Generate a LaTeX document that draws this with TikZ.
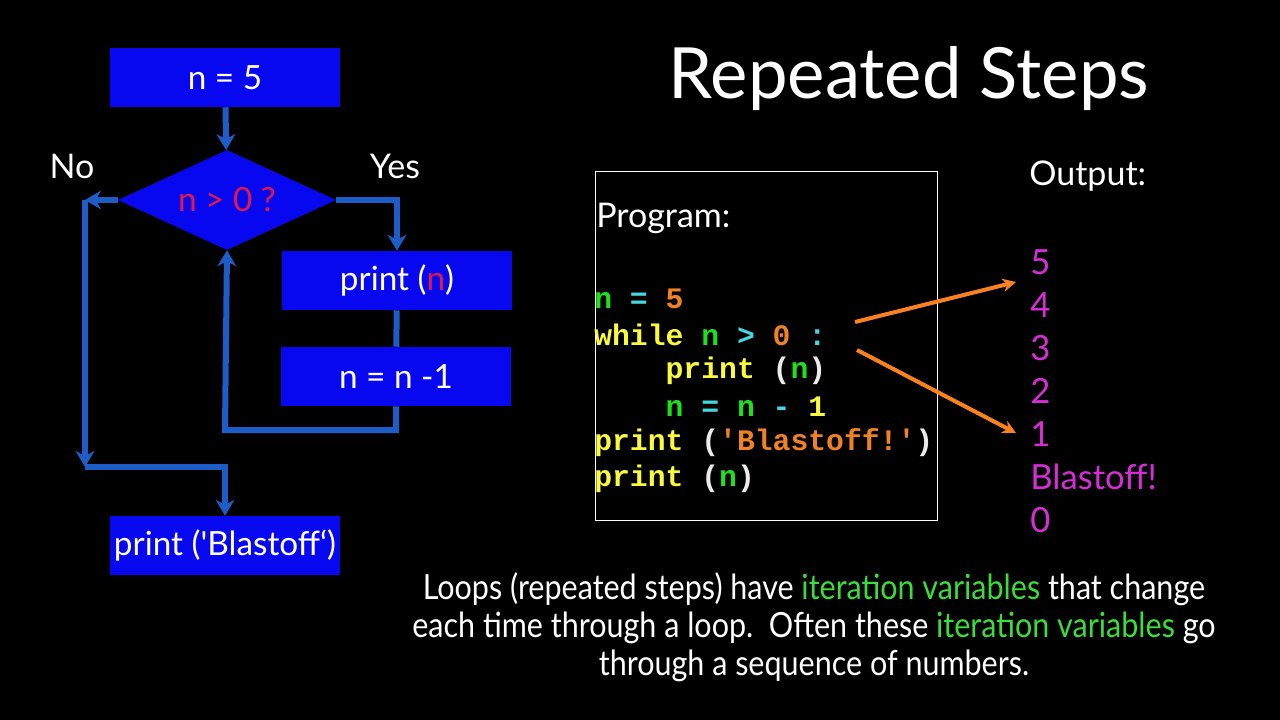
\documentclass[tikz,border=0pt]{standalone}
\usepackage{fontspec}
\setmainfont{Lato}
\setmonofont{Liberation Mono}
\newfontfamily\narrowfont{Lato}[FakeStretch=0.88]
\usepackage{xcolor}
\usepackage{tikz}
\usetikzlibrary{arrows.meta,positioning,shapes.geometric,calc}
\definecolor{boxblue}{RGB}{8,8,240}
\definecolor{flowblue}{RGB}{30,92,200}
\definecolor{condred}{RGB}{225,25,70}
\definecolor{codegreen}{RGB}{30,225,30}
\definecolor{codecyan}{RGB}{70,215,225}
\definecolor{codeorange}{RGB}{240,130,35}
\definecolor{codeyellow}{RGB}{250,250,60}
\definecolor{outmagenta}{RGB}{215,45,215}
\definecolor{textgreen}{RGB}{60,220,60}
\definecolor{hintorange}{RGB}{250,130,30}
\newcommand{\kw}[1]{\textcolor{codeyellow}{#1}}
\newcommand{\vr}[1]{\textcolor{codegreen}{#1}}
\newcommand{\op}[1]{\textcolor{codecyan}{#1}}
\newcommand{\nm}[1]{\textcolor{codeorange}{#1}}
\newcommand{\pr}[1]{\textcolor{white!92!black}{#1}}
\newcommand{\itervar}{\textcolor{textgreen}{iteration variables}}

\begin{document}
\begin{tikzpicture}[
        x=0.75pt, y=-0.75pt,
        stepbox/.style={rectangle, fill=boxblue, text=white, minimum width=172.5pt, minimum height=44.25pt, inner sep=0pt, font=\fontsize{25}{28}\selectfont},
        decision/.style={diamond, fill=boxblue, minimum width=163.5pt, minimum height=75pt, inner sep=0pt},
        flow/.style={draw=flowblue, line width=4.5pt, -{Stealth[length=12pt,width=14pt]}},
        link/.style={draw=flowblue, line width=4.5pt},
        hint/.style={draw=hintorange, line width=3pt, -{Stealth[length=10pt,width=10pt]}},
        lbl/.style={text=white, font=\fontsize{25.5}{30}\selectfont},
        codeline/.style={anchor=west, inner sep=0pt, font=\ttfamily\bfseries\fontsize{22.3}{26}\selectfont},
        outval/.style={anchor=west, inner sep=0pt, text=outmagenta, font=\fontsize{26}{30}\selectfont}
      ]
        \fill[black] (0,0) rectangle (1280,720);
        \useasboundingbox (0,0) rectangle (1280,720);

        % flowchart
        \node[stepbox] (init) at (225,77.5) {n = 5};
        \node[decision, label={[text=condred, font=\fontsize{25}{28}\selectfont]center:n > 0 ?}] (check) at (227,200) {};
        \node[stepbox] (body) at (397,280.5) {print (\textcolor{condred}{n})};
        \node[stepbox] (decr) at (396,376.5) {n = n -1};
        \node[stepbox] (blast) at (225,545.5) {print (\textquotesingle Blastoff‘)};
        \node[lbl] (no) at (72,166) {No};
        \node[lbl] (yes) at (395,166) {Yes};
        \coordinate (noleft) at (85,200);
        \coordinate (nodown) at (85,467);
        \coordinate (back) at (225,430);

        \draw[flow] (init) -- (check);
        \draw[flow] (check.east) -| (body.north);
        \draw[link] (body) -- (decr);
        \draw[flow] (decr.south) |- (back) -- (check.south);
        \draw[flow] (check.west) -- (noleft);
        \draw[flow] (noleft) -- (nodown);
        \draw[flow] (nodown) -| (blast.north);

        % title
        \node[text=white, font=\fontsize{53}{60}\selectfont] (title) at (909,79) {Repeated Steps};

        % program
        \node[draw=white, line width=0.75pt, minimum width=257pt, minimum height=261pt, inner sep=0pt] (prog) at (766.5,346) {};
        \node[lbl, anchor=west, inner sep=0pt] (proglbl) at (596,218) {Program:};
        \node[codeline] (c1) at (594,299) {\vr{n} \op{=} \nm{5}};
        \node[codeline] (c2) at (594,335) {\kw{while} \vr{n} \op{>} \nm{0} \op{:}};
        \node[codeline] (c3) at (594,371) {\phantom{0000}\kw{print} \pr{(}\vr{n}\pr{)}};
        \node[codeline] (c4) at (594,407) {\phantom{0000}\vr{n} \op{=} \vr{n} \op{-} \kw{1}};
        \node[codeline] (c5) at (594,443) {\kw{print} \pr{(}\nm{'Blastoff!'}\pr{)}};
        \node[codeline] (c6) at (594,479) {\kw{print} \pr{(}\vr{n}\pr{)}};

        % output
        \node[lbl, anchor=west, inner sep=0pt] (outlbl) at (1029,176) {Output:};
        \node[outval] (o5) at (1030,262) {5};
        \node[outval] (o4) at (1030,305) {4};
        \node[outval] (o3) at (1030,348) {3};
        \node[outval] (o2) at (1030,391) {2};
        \node[outval] (o1) at (1030,434) {1};
        \node[outval] (ob) at (1030,477) {Blastoff!};
        \node[outval] (o0) at (1030,520) {0};

        \coordinate (from1) at (855,322);
        \coordinate (from2) at (857,350);
        \draw[hint] (from1) -- ($(o5.west)+(-14,20)$);
        \draw[hint] (from2) -- ($(o1.west)+(-14,-1)$);

        % note
        \node[text=white, align=center, font=\narrowfont\fontsize{26}{28.5}\selectfont] (note) at (814,627)
          {Loops (repeated steps) have \itervar{} that change\\
           each time through a loop.\ \ Often these \itervar{} go\\
           through a sequence of numbers.};
      \end{tikzpicture}
\end{document}
